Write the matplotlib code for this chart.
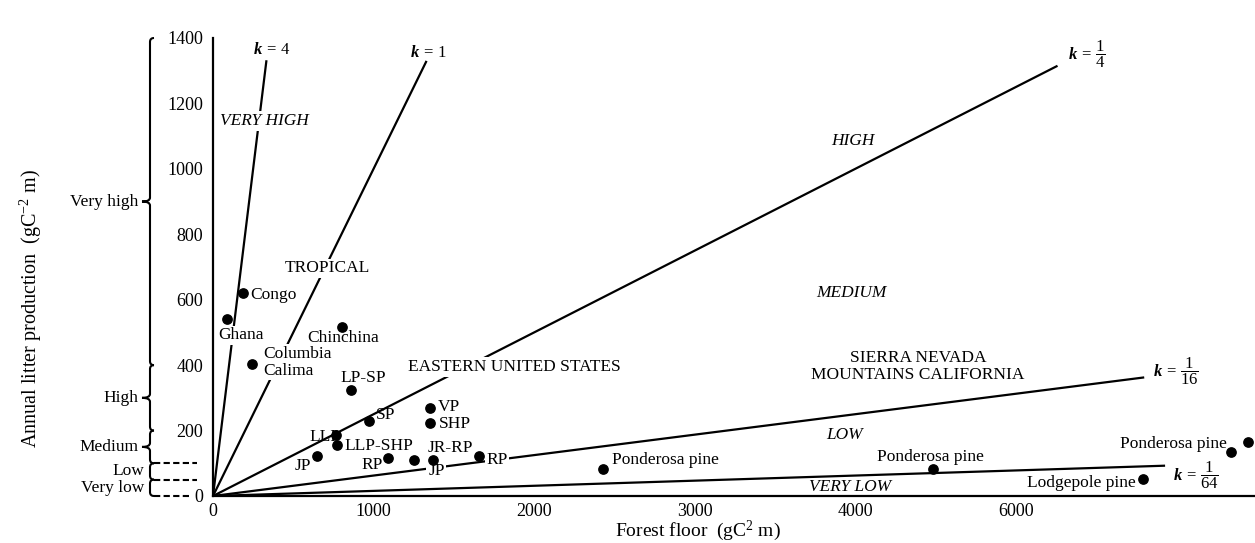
import numpy as np
import matplotlib.pyplot as plt
import matplotlib.transforms as mtransforms
from matplotlib.path import Path
from matplotlib.patches import PathPatch

plt.rcParams['font.family'] = ['Liberation Serif', 'DejaVu Serif']
plt.rcParams['mathtext.fontset'] = 'custom'
plt.rcParams['mathtext.rm'] = 'Liberation Serif'
plt.rcParams['mathtext.it'] = 'Liberation Serif:italic:bold'
plt.rcParams['mathtext.bf'] = 'Liberation Serif:bold'

# stands: forest floor mass vs annual litter production
sites = ['Congo', 'Ghana', 'Columbia\nCalima', 'Chinchina', 'LP-SP', 'SP', 'LLP', 'LLP-SHP',
         'JP', 'RP', 'JP', 'JR-RP', 'VP', 'SHP', 'RP', 'Ponderosa pine', 'Ponderosa pine',
         'Lodgepole pine', 'Ponderosa pine', '']
forest_floor = [188, 90, 243, 805, 861, 974, 766, 770, 650, 1092, 1253, 1372, 1350, 1354,
                1659, 2430, 4486, 5793, 6341, 6448]
litter = [621, 540, 403, 517, 324, 230, 187, 157, 122, 115, 110, 111, 270, 224, 122, 83,
          83, 51, 135, 164]

# decomposition constant lines  (litter = k * forest floor)
k_values = [4, 1, 1 / 4, 1 / 16, 1 / 64]
k_line_end = [333, 1330, 5260, 5800, 5930]
k_texts = [r'$k\,=\,\mathit{4}$', r'$k\,=\,\mathit{1}$',
           r'$k\,=\,\dfrac{\mathit{1}}{\mathit{4}}$',
           r'$k\,=\,\dfrac{\mathit{1}}{\mathit{16}}$',
           r'$k\,=\,\dfrac{\mathit{1}}{\mathit{64}}$']
k_text_pos = [(365, 1362), (1342, 1354), (5441, 1350), (5997, 380), (6121, 64)]

# litter production classes
classes = ['Very high', 'High', 'Medium', 'Low', 'Very low']
class_bounds = [1400, 400, 200, 100, 50, 0]

x_ticks = [0, 1000, 2000, 3000, 4000, 5000]
x_ticklabels = ['0', '1000', '2000', '3000', '4000', '6000']
y_ticks = [0, 200, 400, 600, 800, 1000, 1200, 1400]

# label placement (pixel offsets from the dot) - styling only
label_offsets = [(7, -2, 'left'), (14, -16, 'center'), (11, 2, 'left'), (1, -11, 'center'),
                 (12, 12, 'center'), (6, 6, 'left'), (4, -2, 'right'), (8, -1, 'left'),
                 (-6, -10, 'right'), (-5, -7, 'right'), (14, -11, 'left'), (-6, 12, 'left'),
                 (8, 1, 'left'), (8, -1, 'left'), (7, -4, 'left'), (9, 9, 'left'),
                 (-3, 12, 'center'), (-7, -4, 'right'), (-4, 8, 'right'), (0, 0, 'left')]
masked_labels = {1, 2, 10, 14}

fs = 12.5
fig = plt.figure(figsize=(12.55, 5.43), dpi=100)
ax = fig.add_axes([213 / 1255, 47 / 543, 1042 / 1255, 458 / 543])
ax.set_xlim(0, 6490)
ax.set_ylim(0, 1400)
for s in ['top', 'right']:
    ax.spines[s].set_visible(False)
for s in ['left', 'bottom']:
    ax.spines[s].set_linewidth(1.6)
ax.tick_params(length=0, labelsize=13)
ax.tick_params(axis='y', pad=7)
ax.tick_params(axis='x', pad=5)
ax.set_xticks(x_ticks, x_ticklabels)
ax.set_yticks(y_ticks)

for k, xe, txt, pos in zip(k_values, k_line_end, k_texts, k_text_pos):
    xs = np.array([0, xe])
    ax.plot(xs, k * xs, color='black', lw=1.6, solid_capstyle='butt', zorder=2)
    ax.text(pos[0], pos[1], txt, fontsize=12, ha='center', va='center', zorder=5)

ax.scatter(forest_floor, litter, s=45, color='black', zorder=6, clip_on=False)

white = dict(boxstyle='square,pad=0.1', fc='white', ec='none')
for i, (name, x, y) in enumerate(zip(sites, forest_floor, litter)):
    dx, dy, ha = label_offsets[i]
    if not name:
        continue
    ax.annotate(name, (x, y), xytext=(dx, dy), textcoords='offset pixels', ha=ha, va='center',
                fontsize=fs, zorder=5, linespacing=1.1,
                bbox=white if i in masked_labels else None)

# zone names
ax.text(321, 1146, 'VERY HIGH', style='italic', fontsize=fs, ha='center', va='center',
        bbox=white, zorder=5)
ax.text(3986, 1084, 'HIGH', style='italic', fontsize=fs, ha='center', va='center')
ax.text(3976, 620, 'MEDIUM', style='italic', fontsize=fs, ha='center', va='center')
ax.text(3936, 186, 'LOW', style='italic', fontsize=fs, ha='center', va='center')
ax.text(3970, 29, 'VERY LOW', style='italic', fontsize=fs, ha='center', va='center')
ax.text(710, 696, 'TROPICAL', fontsize=fs, ha='center', va='center', bbox=white, zorder=5)
ax.text(1875, 394, 'EASTERN UNITED STATES', fontsize=fs, ha='center', va='center',
        bbox=white, zorder=5)
ax.text(4390, 396, 'SIERRA NEVADA\nMOUNTAINS CALIFORNIA', fontsize=fs, ha='center',
        va='center', linespacing=1.15)

# braces for litter production classes (x in inches, y in data)
trans = mtransforms.blended_transform_factory(fig.dpi_scale_trans, ax.transData)
stem = 1.50
curl_x, curl_y = 0.04, 12
for j, name in enumerate(classes):
    hi, lo = class_bounds[j], class_bounds[j + 1]
    mid = (hi + lo) / 2
    tip = 0.08 if j < 3 else 0.0
    verts = [(stem + curl_x, hi), (stem, hi), (stem, hi - curl_y),
             (stem, mid + curl_y), (stem, mid), (stem - tip, mid),
             (stem, mid), (stem, mid - curl_y),
             (stem, lo + curl_y), (stem, lo), (stem + curl_x, lo)]
    codes = [Path.MOVETO, Path.CURVE3, Path.CURVE3, Path.LINETO, Path.CURVE3, Path.CURVE3,
             Path.CURVE3, Path.CURVE3, Path.LINETO, Path.CURVE3, Path.CURVE3]
    ax.add_patch(PathPatch(Path(verts, codes), transform=trans, fill=False, lw=1.5,
                           clip_on=False))
    ax.text(stem - max(tip, 0.02) - 0.04, mid, name, transform=trans, ha='right',
            va='center', fontsize=fs)
for b in class_bounds[3:]:
    ax.plot([stem + curl_x, 1.97 if b else 1.92], [b, b], transform=trans, color='black',
            lw=1.5, ls=(0, (3, 1.6)), clip_on=False)

ax.set_xlabel(r'Forest floor  (gC$^{\mathrm{2}}$ m)', fontsize=14)
ax.xaxis.set_label_coords((698 - 213) / 1042, -0.05)
ax.set_ylabel(r'Annual litter production  (gC$^{\mathrm{-2}}$ m)', fontsize=14.5)
ax.yaxis.set_label_coords(-0.162, 0.41)

fig.savefig('out.png', dpi=100)
